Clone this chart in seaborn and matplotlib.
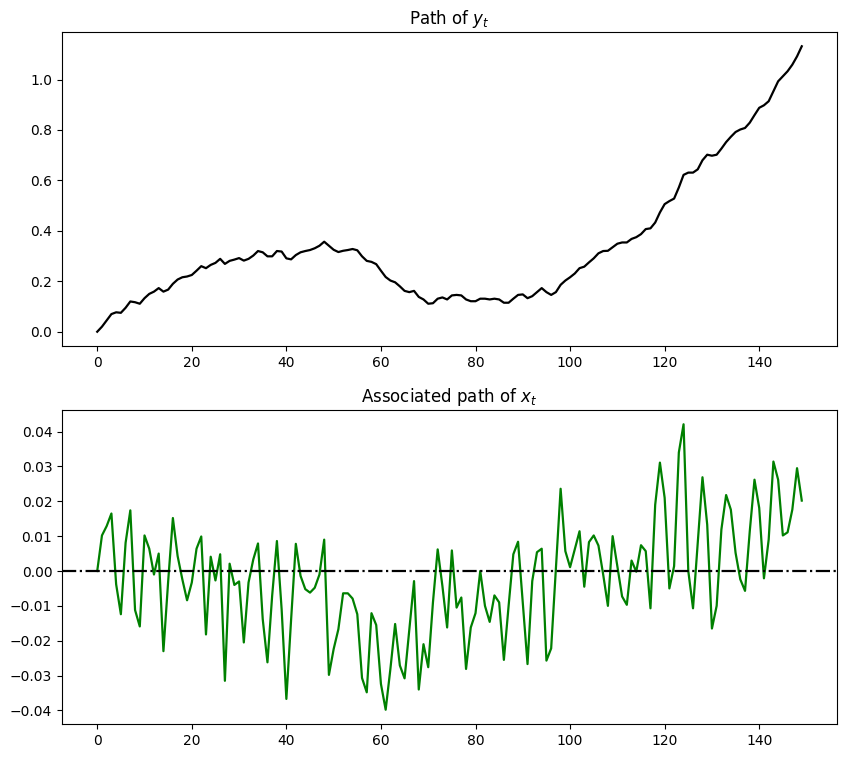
import numpy as np
import pandas as pd
import matplotlib
matplotlib.use("Agg")
import matplotlib.pyplot as plt
from matplotlib.ticker import MultipleLocator
import seaborn as sns

y_path = [
    0.000, 0.020, 0.045, 0.070, 0.077, 0.075, 0.095, 0.120, 0.117, 0.111,
    0.133, 0.150, 0.159, 0.173, 0.159, 0.167, 0.190, 0.207, 0.216, 0.219,
    0.225, 0.242, 0.260, 0.252, 0.265, 0.273, 0.289, 0.269, 0.281, 0.286,
    0.292, 0.282, 0.289, 0.302, 0.320, 0.315, 0.299, 0.299, 0.320, 0.318,
    0.291, 0.287, 0.304, 0.315, 0.320, 0.324, 0.331, 0.341, 0.357, 0.341,
    0.325, 0.316, 0.321, 0.324, 0.328, 0.323, 0.299, 0.281, 0.277, 0.268,
    0.242, 0.217, 0.203, 0.196, 0.180, 0.162, 0.157, 0.162, 0.138, 0.128,
    0.111, 0.113, 0.131, 0.136, 0.128, 0.144, 0.146, 0.144, 0.128, 0.121,
    0.121, 0.131, 0.131, 0.128, 0.131, 0.128, 0.115, 0.115, 0.131, 0.146,
    0.148, 0.133, 0.141, 0.157, 0.173, 0.157, 0.146, 0.157, 0.186, 0.203,
    0.216, 0.231, 0.252, 0.258, 0.275, 0.291, 0.311, 0.320, 0.321, 0.335,
    0.349, 0.354, 0.354, 0.368, 0.375, 0.387, 0.407, 0.410, 0.433, 0.473,
    0.506, 0.518, 0.528, 0.572, 0.622, 0.631, 0.631, 0.644, 0.680, 0.702,
    0.698, 0.702, 0.726, 0.752, 0.773, 0.792, 0.802, 0.808, 0.829, 0.859,
    0.888, 0.898, 0.914, 0.954, 0.993, 1.013, 1.033, 1.059, 1.092, 1.132,
]

x_path = [
    0.0000, 0.0102, 0.0129, 0.0165, -0.0038, -0.0124, 0.0081, 0.0174, -0.0112, -0.0159,
    0.0102, 0.0064, -0.0010, 0.0050, -0.0230, -0.0030, 0.0152, 0.0043, -0.0024, -0.0084,
    -0.0033, 0.0064, 0.0099, -0.0182, 0.0041, -0.0027, 0.0048, -0.0315, 0.0021, -0.0040,
    -0.0030, -0.0205, -0.0033, 0.0033, 0.0079, -0.0138, -0.0262, -0.0070, 0.0086, -0.0110,
    -0.0367, -0.0140, 0.0078, -0.0014, -0.0052, -0.0062, -0.0048, -0.0010, 0.0090, -0.0298,
    -0.0224, -0.0167, -0.0064, -0.0064, -0.0079, -0.0124, -0.0307, -0.0348, -0.0121, -0.0155,
    -0.0324, -0.0398, -0.0281, -0.0152, -0.0271, -0.0308, -0.0167, -0.0029, -0.0340, -0.0210,
    -0.0276, -0.0090, 0.0062, -0.0043, -0.0162, 0.0059, -0.0105, -0.0076, -0.0281, -0.0162,
    -0.0121, 0.0000, -0.0100, -0.0146, -0.0070, -0.0090, -0.0255, -0.0100, 0.0048, 0.0084,
    -0.0090, -0.0267, -0.0029, 0.0054, 0.0064, -0.0257, -0.0222, 0.0005, 0.0236, 0.0057,
    0.0011, 0.0062, 0.0114, -0.0045, 0.0083, 0.0102, 0.0073, -0.0010, -0.0100, 0.0100,
    0.0014, -0.0073, -0.0097, 0.0030, -0.0002, 0.0074, 0.0057, -0.0107, 0.0190, 0.0311,
    0.0210, -0.0050, 0.0014, 0.0340, 0.0421, 0.0000, -0.0107, 0.0080, 0.0269, 0.0133,
    -0.0165, -0.0100, 0.0119, 0.0218, 0.0176, 0.0052, -0.0024, -0.0057, 0.0114, 0.0262,
    0.0181, -0.0021, 0.0090, 0.0314, 0.0262, 0.0102, 0.0111, 0.0176, 0.0295, 0.0202,
]

t_index = list(range(len(y_path)))
title_top = "Path of $y_t$"
title_bottom = "Associated path of $x_t$"

df = pd.DataFrame({"t": t_index, "y": y_path, "x": x_path})

W, H = 847, 759
fig = plt.figure(figsize=(W / 100, H / 100), dpi=100)
ax1 = fig.add_axes([62 / W, 1 - 346 / H, 775 / W, 314 / H])
ax2 = fig.add_axes([62 / W, 1 - 724 / H, 775 / W, 314 / H])

sns.lineplot(data=df, x="t", y="y", ax=ax1, color="black", linewidth=1.6)
ax1.set_title(title_top, fontsize=12)
ax1.set_xlabel("")
ax1.set_ylabel("")

sns.lineplot(data=df, x="t", y="x", ax=ax2, color="green", linewidth=1.6)
ax2.axhline(0, color="black", linestyle="-.", linewidth=1.6)
ax2.yaxis.set_major_locator(MultipleLocator(0.01))
ax2.set_title(title_bottom, fontsize=12)
ax2.set_xlabel("")
ax2.set_ylabel("")

fig.savefig("out.png", dpi=100)
